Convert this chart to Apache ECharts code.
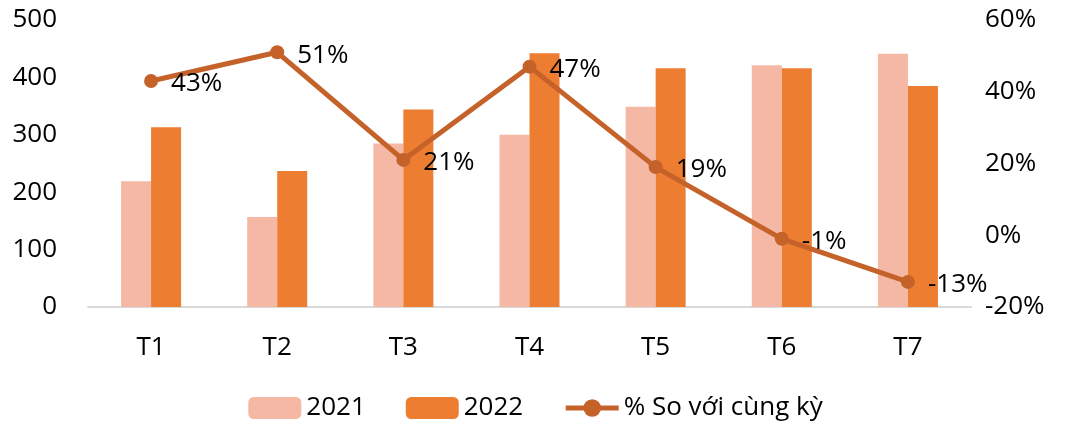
<!DOCTYPE html>
<html>
<head>
<meta charset="utf-8">
<script src="https://cdn.jsdelivr.net/npm/echarts@6/dist/echarts.min.js"></script>
<style>
	html, body { margin: 0; padding: 0; background: #fff; }
	#main { width: 1071px; height: 427px; }
</style>
</head>
<body>
<div id="main"></div>
<script>
	var months = ['T1', 'T2', 'T3', 'T4', 'T5', 'T6', 'T7'];
	var y2021 = [219, 157, 285, 300, 349, 421, 441];
	var y2022 = [313, 237, 344, 442, 416, 416, 385];
	var yoy = [43, 51, 21, 47, 19, -1, -13];

	var font = 'Open Sans';
	var fs = 26;
	var chart = echarts.init(document.getElementById('main'));
	var option = {
		animation: false,
		textStyle: { fontFamily: font },
		grid: { left: 88, right: 100, top: 20, bottom: 120 },
		legend: {
			bottom: 1,
			left: 'center',
			itemWidth: 53,
			itemHeight: 22,
			itemGap: 40,
			textStyle: { fontSize: fs, color: '#000', fontFamily: font },
			data: ['2021', '2022', {
				name: '% So với cùng kỳ',
				lineStyle: { width: 5 },
				itemStyle: { color: '#c5622a' }
			}]
		},
		xAxis: {
			type: 'category',
			data: months,
			axisLine: { lineStyle: { color: '#d9d9d9', width: 2 } },
			axisTick: { show: false },
			axisLabel: { fontSize: fs, color: '#000', margin: 28, fontFamily: font }
		},
		yAxis: [{
			type: 'value',
			min: 0,
			max: 500,
			interval: 100,
			splitLine: { show: false },
			axisLabel: { fontSize: fs, color: '#000', margin: 31, fontFamily: font }
		}, {
			type: 'value',
			min: -20,
			max: 60,
			interval: 20,
			splitLine: { show: false },
			axisLabel: { fontSize: fs, color: '#000', margin: 14, formatter: '{value}%', fontFamily: font }
		}],
		series: [{
			name: '2021',
			type: 'bar',
			data: y2021,
			barWidth: 30,
			barGap: '0%',
			itemStyle: { color: '#f4b8a4' }
		}, {
			name: '2022',
			type: 'bar',
			data: y2022,
			barWidth: 30,
			itemStyle: { color: '#ed7d31' }
		}, {
			name: '% So với cùng kỳ',
			type: 'line',
			yAxisIndex: 1,
			data: yoy,
			symbol: 'circle',
			symbolSize: 14,
			lineStyle: { color: '#c5622a', width: 5 },
			itemStyle: { color: '#c5622a' },
			label: {
				show: true,
				position: 'right',
				distance: 13,
				offset: [0, 3],
				fontSize: fs,
				color: '#000',
				fontFamily: font,
				formatter: '{c}%'
			}
		}]
	};
	chart.setOption(option);
</script>
</body>
</html>
